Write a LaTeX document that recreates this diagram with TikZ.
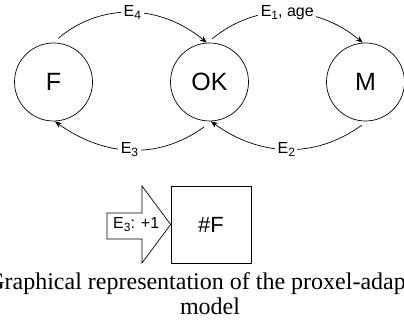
\documentclass[tikz,border=0pt]{standalone}
\usepackage{fontspec}
\setmainfont{Liberation Sans}
\newfontfamily\capfont{Liberation Serif}
\usetikzlibrary{positioning,arrows.meta}
\newcommand\sbs[1]{\raisebox{-3pt}{\fontsize{12}{13}\selectfont#1}}

\begin{document}
\begin{tikzpicture}[
    x=1pt,y=1pt,
    node distance=156pt,
    state/.style={circle,draw,line width=0.7pt,inner sep=0pt,minimum size=78pt,font=\fontsize{25}{30}\selectfont},
    lbl/.style={midway,fill=white,inner sep=2.5pt,font=\fontsize{16}{18}\selectfont},
    trans/.style={line width=0.7pt,-{Stealth[length=7pt,width=5.5pt]}}
    ]
        \useasboundingbox (0,0) rectangle (404,323);
        \node [state](F) at (53.5,241) {F};
        \node [state](OK) [right of=F] {OK};
        \node [state](M) [right of=OK] {M};

        \path (F.84) ++(84:4.5) edge[trans, out=40, in=140] node[lbl] {E\sbs{4}} (OK.94);
        \path (OK.87) ++(87:3.5) edge[trans, out=40, in=140] node[lbl] {E\sbs{1}, age} (M.94);
        \path (OK.-97) ++(-97:6) edge[trans, out=-144, in=-36] node[lbl] {E\sbs{3}} (F.-88);
        \path (M.-95) ++(-95:4) edge[trans, out=-144, in=-36] node[lbl] {E\sbs{2}} (OK.-88);

        % counter box
        \node [draw,line width=0.7pt,minimum width=80pt,minimum height=77pt,font=\fontsize{22}{26}\selectfont](nF) at (211,98.5) {\#F};
        \draw [line width=0.7pt] (nF.west) -- (142,137) -- (142,110) -- (107,110) -- (107,84) -- (142,84) -- (142,60) -- cycle;
        \node [font=\fontsize{16}{18}\selectfont,anchor=west,inner sep=0pt](inc) at (113,98.5) {E\sbs{3}: +1};

        \node [font=\capfont\fontsize{24}{28}\selectfont,anchor=base east,inner sep=0pt](cap1) at (406,33) {Graphical representation of the proxel-adap};
        \node [font=\capfont\fontsize{24}{28}\selectfont,anchor=base,inner sep=0pt](cap2) at (210,8) {model};

\end{tikzpicture}
\end{document}
